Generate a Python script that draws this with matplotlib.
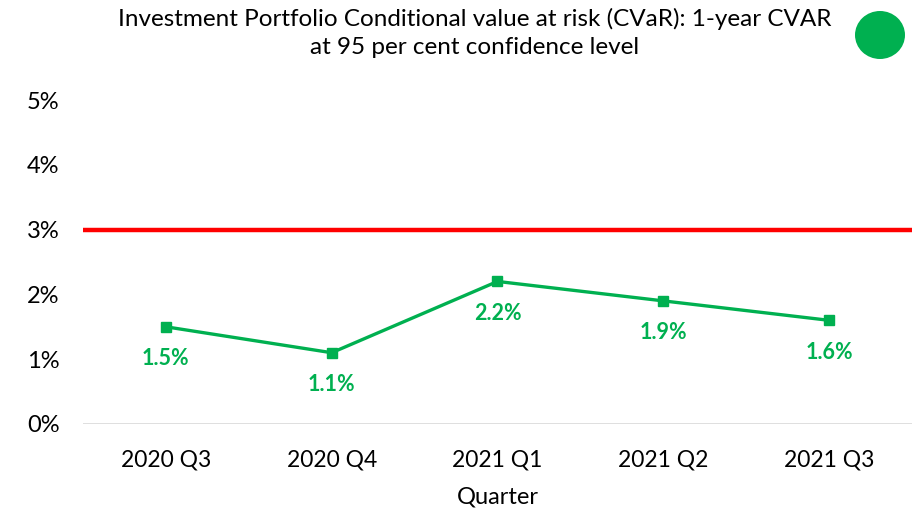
import matplotlib
matplotlib.use("Agg")
import matplotlib.pyplot as plt
from matplotlib.patches import Ellipse

quarters = ["2020 Q3", "2020 Q4", "2021 Q1", "2021 Q2", "2021 Q3"]
cvar = [1.5, 1.1, 2.2, 1.9, 1.6]
limit = 3.0
yticks = [0, 1, 2, 3, 4, 5]
title = "Investment Portfolio Conditional value at risk (CVaR): 1-year CVAR\nat 95 per cent confidence level"

GREEN = "#00B050"
RED = "#FF0000"

plt.rcParams['font.family'] = ['Lato', 'DejaVu Sans']

fig = plt.figure(figsize=(9.2, 5.11), dpi=100)
ax = fig.add_axes([83/920, 1-424/511, (912-83)/920, (424-100)/511])

x = list(range(len(quarters)))
ax.axhline(limit, color=RED, lw=3.2, zorder=2)
ax.axhline(0, color="#D9D9D9", lw=1.2, zorder=1)
ax.plot(x, cvar, color=GREEN, lw=2.4, marker="s", markersize=6.5, zorder=3)
for xi, v in zip(x, cvar):
    ax.annotate(f"{v:.1f}%", (xi, v), xytext=(0, -23), textcoords="offset points",
                ha="center", va="center", color=GREEN, fontsize=15.5, fontweight="bold")

ax.set_xlim(-0.5, len(quarters) - 0.5)
ax.set_ylim(0, 5)
ax.set_yticks(yticks)
ax.set_yticklabels([f"{t}%" for t in yticks], fontsize=17)
ax.set_xticks(x)
ax.set_xticklabels(quarters, fontsize=16.5)
ax.tick_params(axis="y", length=0, pad=17)
ax.tick_params(axis="x", length=0, pad=18)
ax.set_xlabel("Quarter", fontsize=17, labelpad=12)
for s in ax.spines.values():
    s.set_visible(False)

fig.text(475/920, 1-33/511, title, ha="center", va="center", fontsize=17.5, linespacing=1.45)
fig.patches.append(Ellipse((880/920, 1-35/511), 50/920, 48/511, transform=fig.transFigure,
                           facecolor=GREEN, edgecolor="none"))

fig.savefig("out.png", dpi=100)
